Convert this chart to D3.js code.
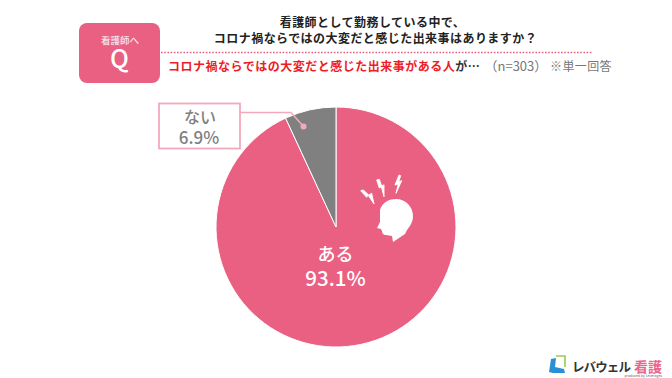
<!DOCTYPE html>
<html>
<head>
<meta charset="utf-8">
<script src="https://cdn.jsdelivr.net/npm/d3@7/dist/d3.min.js"></script>
<style>
html, body { margin: 0; padding: 0; background: #fff; }
svg { display: block; }
text { font-family: "Noto Sans CJK JP", "Noto Sans", sans-serif; }
</style>
</head>
<body>
<div id="chart"></div>
<script>
var categories = ["ある", "ない"];
var values = [93.1, 6.9];
var sliceColors = ["#ea6083", "#808080"];
var titleLines = ["看護師として勤務している中で、", "コロナ禍ならではの大変だと感じた出来事はありますか？"];

var width = 672, height = 378;
var pink = "#ea6083";

var svg = d3.select("#chart").append("svg")
    .attr("width", width)
    .attr("height", height);

// Qバッジ
svg.append("rect")
    .attr("x", 79).attr("y", 23)
    .attr("width", 81).attr("height", 60)
    .attr("rx", 8)
    .attr("fill", pink);
svg.append("text")
    .attr("x", 120).attr("y", 43.5)
    .attr("text-anchor", "middle")
    .attr("font-size", 9.5)
    .attr("font-weight", 500)
    .attr("fill", "#fbe3e9")
    .text("看護師へ");
svg.append("text")
    .attr("x", 119.5).attr("y", 68)
    .attr("text-anchor", "middle")
    .attr("font-size", 25)
    .attr("font-weight", 500)
    .attr("fill", "#fff")
    .text("Q");

// タイトル
svg.selectAll(".title")
    .data(titleLines)
    .enter().append("text")
    .attr("class", "title")
    .attr("x", function(d, i) { return i == 0 ? 372.5 : 375.5; })
    .attr("y", function(d, i) { return 27 + i * 16; })
    .attr("text-anchor", "middle")
    .attr("font-size", 12)
    .attr("font-weight", 700)
    .attr("letter-spacing", 0.45)
    .attr("fill", "#222")
    .text(function(d) { return d; });

svg.append("line")
    .attr("x1", 161).attr("x2", 593)
    .attr("y1", 52.5).attr("y2", 52.5)
    .attr("stroke", pink)
    .attr("stroke-width", 1.6)
    .attr("stroke-dasharray", "1.6 1.6");

var sub = svg.append("text")
    .attr("x", 168).attr("y", 70.5)
    .attr("font-size", 12)
    .attr("font-weight", 700)
    .attr("letter-spacing", 0.5);
sub.append("tspan").attr("fill", "#ee1c25").text("コロナ禍ならではの大変だと感じた出来事がある人");
sub.append("tspan").attr("fill", "#333").text("が…");
svg.append("text")
    .attr("x", 484.5).attr("y", 70.5)
    .attr("font-size", 13)
    .attr("fill", "#777")
    .text("（n=303）");
svg.append("text")
    .attr("x", 612).attr("y", 70.5)
    .attr("text-anchor", "end")
    .attr("font-size", 12)
    .attr("letter-spacing", 0.4)
    .attr("fill", "#777")
    .text("※単一回答");

// 円グラフ
var cx = 336, cy = 227, radius = 120;
var pie = d3.pie().sort(null).value(function(d) { return d; });
var arc = d3.arc().innerRadius(0).outerRadius(radius);
var pieG = svg.append("g").attr("transform", "translate(" + cx + "," + cy + ")");

pieG.selectAll("path")
    .data(pie(values))
    .enter().append("path")
    .attr("d", arc)
    .attr("fill", function(d, i) { return sliceColors[i]; })
    .attr("stroke", "#fff")
    .attr("stroke-width", 1);

// ラベル
svg.append("text")
    .attr("x", 335.5).attr("y", 261)
    .attr("text-anchor", "middle")
    .attr("font-size", 18)
    .attr("font-weight", 500)
    .attr("fill", "#fff")
    .text(categories[0]);
svg.append("text")
    .attr("x", 335.5).attr("y", 286)
    .attr("text-anchor", "middle")
    .attr("font-size", 20.5)
    .attr("font-weight", 500)
    .attr("fill", "#fff")
    .text(values[0].toFixed(1) + "%");

// 吹き出し
var leader = d3.line();
svg.append("path")
    .attr("d", leader([[240, 112.5], [291, 112.5], [303.5, 126.5]]))
    .attr("fill", "none")
    .attr("stroke", "#f2a9bb")
    .attr("stroke-width", 1.5);
svg.append("circle")
    .attr("cx", 303.5).attr("cy", 126.5).attr("r", 3)
    .attr("fill", "#f2a9bb");
svg.append("rect")
    .attr("x", 159).attr("y", 103.5)
    .attr("width", 81).attr("height", 45)
    .attr("fill", "#fff")
    .attr("stroke", "#f2a9bb")
    .attr("stroke-width", 1.8);
svg.append("text")
    .attr("x", 200).attr("y", 123)
    .attr("text-anchor", "middle")
    .attr("font-size", 16)
    .attr("font-weight", 500)
    .attr("fill", "#808080")
    .text(categories[1]);
svg.append("text")
    .attr("x", 199).attr("y", 144)
    .attr("text-anchor", "middle")
    .attr("font-size", 17)
    .attr("font-weight", 500)
    .attr("fill", "#808080")
    .text(values[1].toFixed(1) + "%");

// 頭痛アイコン
var icon = svg.append("g").attr("fill", "#fff");
icon.append("path")
    .attr("d", "M380 210 C382 202 390 199 396 199 C406 199 413 207 413 216 C413 222 410 226 407 230 L405 234 L393 242 L392 236 L386 235 C383 235 382 233 382 231 L381 229 L377 228 L380 222 Z");
var bolts = ["M360.7 190.7 L366.7 197.3 L368 195 L374 204 L371.7 193.3 L368.7 195 L363.3 190 Z",
    "M376.7 180 L379.3 188 L381.3 186.7 L384 196.7 L384 184.7 L381.7 186 L379.3 179.3 Z",
    "M399 175 L395 185 L398.3 184 L396 193.3 L401.7 180.7 L398.7 181.7 L400.7 175.7 Z"];
icon.selectAll(".bolt")
    .data(bolts)
    .enter().append("path")
    .attr("class", "bolt")
    .attr("stroke", "#fff")
    .attr("stroke-width", 0.9)
    .attr("stroke-linejoin", "round")
    .attr("d", function(d) { return d; });

// ロゴ
var logo = svg.append("g");
logo.append("path")
    .attr("d", "M551 359 L556 358 L555 367 L564 369 L565 373 L553 373 L549 372 Z")
    .attr("fill", "#2b8fd6");
logo.append("path")
    .attr("d", "M556 356 L565 356 L565 367")
    .attr("stroke", "#9acb4c")
    .attr("stroke-width", 1.6)
    .attr("fill", "none");
logo.append("text")
    .attr("x", 572).attr("y", 372)
    .attr("font-size", 12.5)
    .attr("font-weight", 700)
    .attr("letter-spacing", -0.9)
    .attr("fill", "#333")
    .text("レバウェル");
logo.append("text")
    .attr("x", 634).attr("y", 372)
    .attr("font-size", 14)
    .attr("font-weight", 700)
    .attr("fill", "#e9678a")
    .text("看護");
logo.append("text")
    .attr("x", 662).attr("y", 376.5)
    .attr("text-anchor", "end")
    .attr("font-size", 3.5)
    .attr("fill", "#666")
    .text("produced by Leverages");
</script>
</body>
</html>
